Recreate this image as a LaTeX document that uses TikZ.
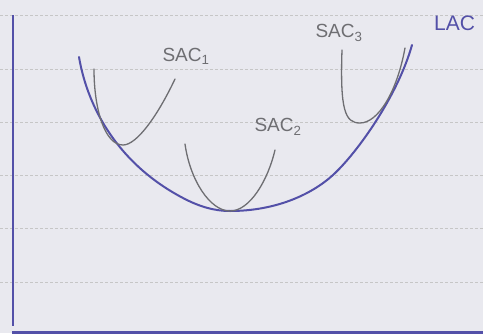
\documentclass[tikz,border=0pt]{standalone}
\usepackage{fontspec}
\setmainfont{Liberation Sans}
\usepackage{xcolor}
\usetikzlibrary{positioning}

\definecolor{paper}{HTML}{E9E9EF}
\definecolor{pen}{HTML}{5350A8}
\definecolor{pencil}{HTML}{6E6E72}

\begin{document}
\begin{tikzpicture}[x=1pt, y=-1pt,
  ruling/.style={densely dashed, gray!45, line width=0.6pt},
  axisL/.style={pen, line width=2pt},
  lacC/.style={pen, line width=2pt, line cap=round},
  sacC/.style={pencil, line width=1.3pt, line cap=round},
  sacL/.style={pencil, font=\fontsize{19}{19}\selectfont, inner sep=0pt},
  lacL/.style={pen, font=\fontsize{21}{21}\selectfont, inner sep=0pt}
]
% Paper
\fill[paper] (0,0) rectangle (483,333);
\useasboundingbox (0,0) rectangle (483,333);
% Ruled lines
\foreach \y in {15,69,122,175,228,282}
  \draw[ruling] (0,\y) -- (483,\y);
% Axes
\draw[axisL] (13,15) -- (13,326);
\draw[axisL, line width=3pt] (12,332) -- (483,332);
% Long-run average cost
\draw[lacC] (79,57) .. controls (88,110) and (120,165) .. (183,198)
  .. controls (200,207) and (215,211) .. (230,211)
  .. controls (275,211) and (311,195) .. (333,175)
  .. controls (358,152) and (398,95) .. (412,45);
% Short-run average costs
\draw[sacC] (94,69) .. controls (94,110) and (105,145) .. (123,145)
  .. controls (137,145) and (158,115) .. (175,79);
\draw[sacC] (185,144) .. controls (190,180) and (210,211) .. (230,211)
  .. controls (250,211) and (268,180) .. (275,150);
\draw[sacC] (342,50) .. controls (340,110) and (345,123) .. (360,123)
  .. controls (378,123) and (397,92) .. (405,48);
% Labels
\node[sacL] (sac1) at (186,56) {SAC\textsubscript{1}};
\node[sacL] (sac2) at (278,127) {SAC\textsubscript{2}};
\node[sacL] (sac3) at (339,33) {SAC\textsubscript{3}};
\node[lacL, anchor=west] (lac) at (434,23) {LAC};
\end{tikzpicture}
\end{document}
